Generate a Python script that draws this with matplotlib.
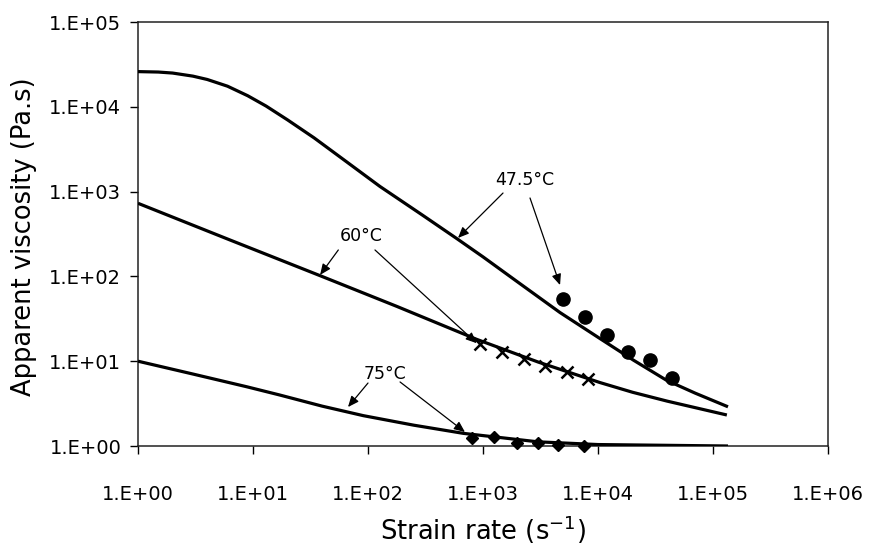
import matplotlib
matplotlib.use("Agg")
import matplotlib.pyplot as plt

plt.rcParams['font.family'] = ['DejaVu Sans']

# Model curves
c475_x = [1, 1.5, 2, 3, 4, 6, 9, 13, 20, 34, 65, 127, 300, 590, 1000, 2000, 4670,
          10400, 20300, 39500, 70000, 135000]
c475_y = [26000, 25700, 25000, 23000, 21000, 17500, 13500, 10200, 7000, 4300, 2250,
          1150, 524, 280, 170, 86, 37.5, 18.5, 10.3, 5.95, 4.2, 2.9]

c60_x = [1, 6.3, 38.3, 178, 881, 3000, 10400, 20000, 40000, 132000]
c60_y = [728, 269, 102, 44.3, 18.1, 9.8, 5.6, 4.3, 3.38, 2.32]

c75_x = [1, 3, 8.8, 17, 40, 91, 250, 674, 3000, 10000, 135000]
c75_y = [10, 7.06, 5.0, 4.0, 2.95, 2.28, 1.76, 1.41, 1.12, 1.04, 1.0]

# Measured data
d475_x = [4960, 7700, 11900, 18400, 28300, 43700]
d475_y = [54, 33, 20.4, 12.9, 10.3, 6.3]

d60_x = [942, 1462, 2275, 3460, 5370, 8190]
d60_y = [16, 12.8, 10.6, 8.8, 7.5, 6.2]

d75_x = [802, 1247, 1976, 3006, 4490, 7550]
d75_y = [1.24, 1.28, 1.08, 1.08, 1.03, 1.0]

xticks = [1, 10, 100, 1e3, 1e4, 1e5, 1e6]
xticklabels = ['1.E+00', '1.E+01', '1.E+02', '1.E+03', '1.E+04', '1.E+05', '1.E+06']
yticks = [1, 10, 100, 1e3, 1e4, 1e5]
yticklabels = ['1.E+00', '1.E+01', '1.E+02', '1.E+03', '1.E+04', '1.E+05']

# Labels: (text, label position, [(arrow start, arrow tip), ...])
labels = [
    ('47.5°C', (2318, 1371), [((1493, 962), (606, 284)), ((2563, 841), (4677, 79))]),
    ('60°C', (86.9, 299), [((55.2, 205), (38.3, 104)), ((115, 205), (881, 16.3))]),
    ('75°C', (140.6, 7.06), [((100, 5.53), (67, 2.88)), ((190, 5.69), (697, 1.46))]),
]

fig = plt.figure(figsize=(8.7, 5.5), dpi=100)
ax = fig.add_axes([138/870, 1 - 446/550, 690/870, 424/550])
ax.set_xscale('log')
ax.set_yscale('log')
ax.set_xlim(1, 1e6)
ax.set_ylim(1, 1e5)

for cx, cy in [(c475_x, c475_y), (c60_x, c60_y), (c75_x, c75_y)]:
    ax.plot(cx, cy, color='black', lw=2.3, solid_capstyle='butt',
            solid_joinstyle='round', zorder=3)

ax.plot(d475_x, d475_y, 'o', color='black', ms=9.5, zorder=4)
ax.plot(d60_x, d60_y, 'x', color='black', ms=9, mew=1.8, zorder=4)
ax.plot(d75_x, d75_y, 'D', color='black', ms=6.5, zorder=4, clip_on=False)

for txt, pos, arrows in labels:
    ax.text(pos[0], pos[1], txt, ha='center', va='center', fontsize=12.5)
    for start, tip in arrows:
        ax.annotate('', xy=tip, xytext=start,
                    arrowprops=dict(arrowstyle='-|>,head_length=0.65,head_width=0.28',
                                    color='black', lw=0.9, shrinkA=0, shrinkB=0))

ax.xaxis.set_major_locator(matplotlib.ticker.FixedLocator(xticks))
ax.yaxis.set_major_locator(matplotlib.ticker.FixedLocator(yticks))
ax.xaxis.set_minor_locator(matplotlib.ticker.NullLocator())
ax.yaxis.set_minor_locator(matplotlib.ticker.NullLocator())
ax.set_xticklabels(xticklabels)
ax.set_yticklabels(yticklabels)
ax.tick_params(axis='both', direction='out', length=6, width=1, labelsize=14, colors='black')
ax.tick_params(axis='x', pad=22)
ax.tick_params(axis='y', pad=6)

for s in ax.spines.values():
    s.set_linewidth(1.1)
    s.set_color('#222222')

ax.set_xlabel('Strain rate (s$^{-1}$)', fontsize=18.5, va='center')
ax.xaxis.set_label_coords(0.5, -0.198)
ax.set_ylabel('Apparent viscosity (Pa.s)', fontsize=18.5, va='center')
ax.yaxis.set_label_coords(-0.165, 0.493)

fig.savefig('out.png', dpi=100)
